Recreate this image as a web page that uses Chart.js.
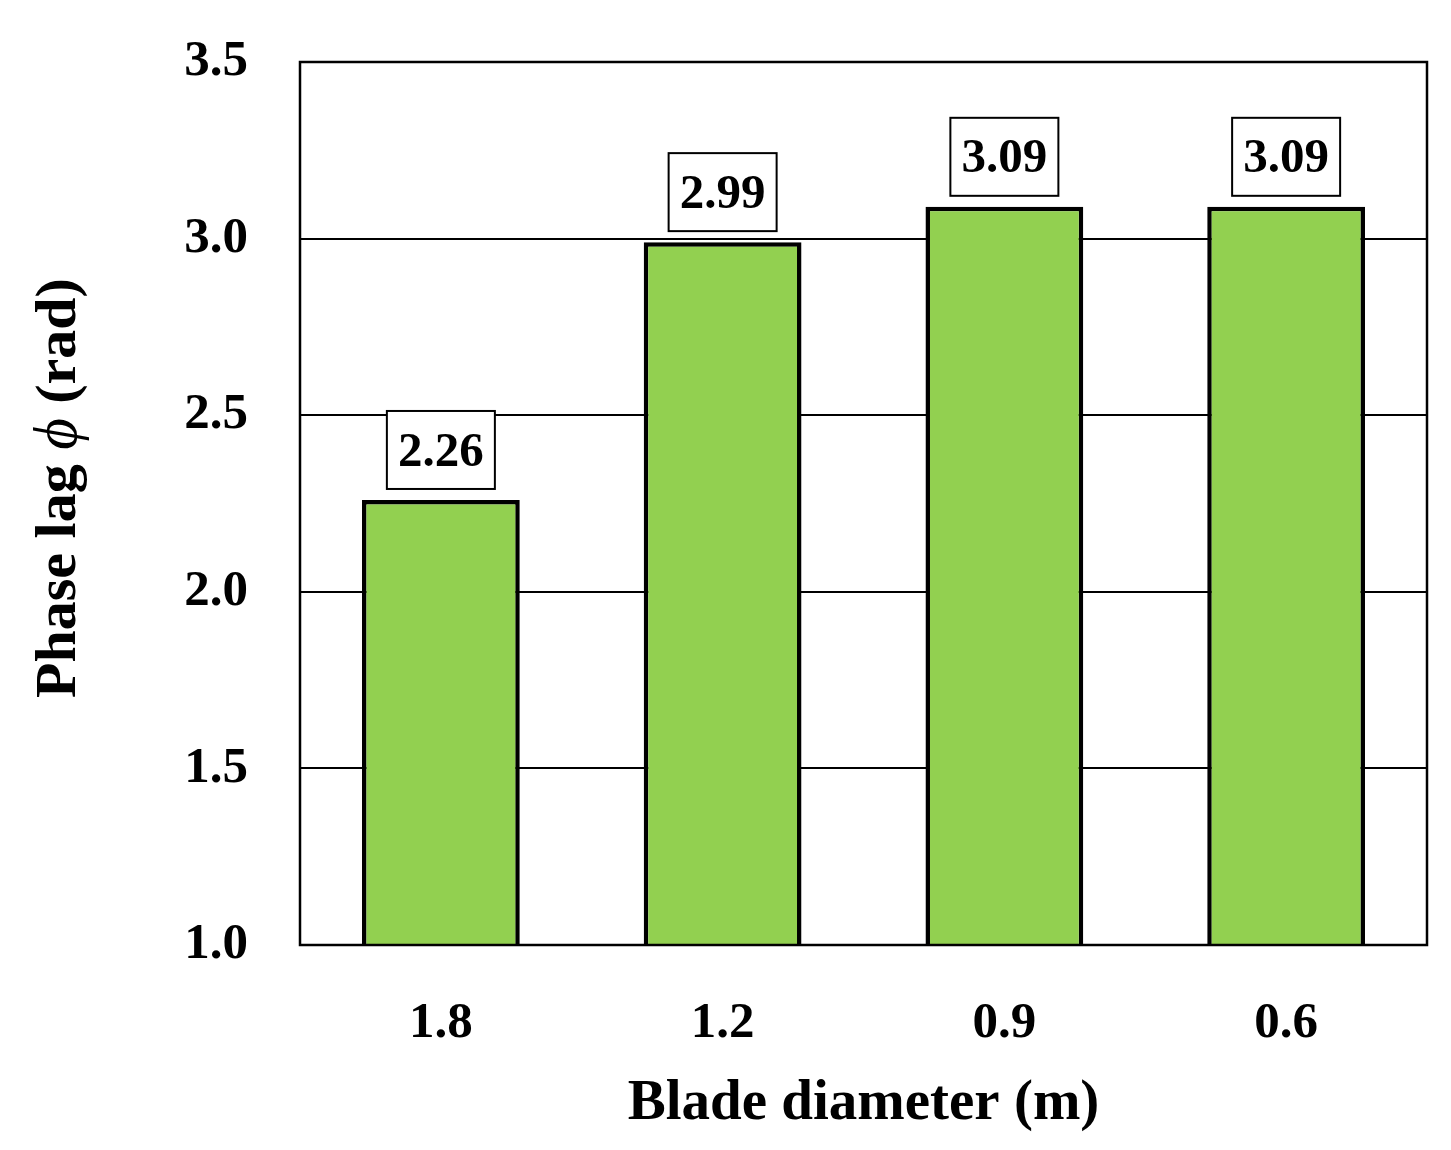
<!DOCTYPE html>
<html>
<head>
<meta charset="utf-8">
<script src="https://cdn.jsdelivr.net/npm/chart.js@4"></script>
<style>
  html, body { margin: 0; padding: 0; background: #fff; }
  #wrap { width: 1451px; height: 1150px; }
</style>
</head>
<body>
<div id="wrap"><canvas id="chart" width="1451" height="1150"></canvas></div>
<script>
// blade diameters on the x axis
const diameters = ['1.8', '1.2', '0.9', '0.6']
// phase lag values (rad)
const phaseLag = [2.26, 2.99, 3.09, 3.09]
// y axis range and step
const yMin = 1.0
const yMax = 3.5
const yStep = 0.5

const serif = "'Liberation Serif', 'Times New Roman', serif"

// boxed value labels above each bar, plus the frame and axis titles
const extras = {
	id: 'extras',
	afterDatasetsDraw(chart) {
		const ctx = chart.ctx
		const area = chart.chartArea
		const meta = chart.getDatasetMeta(0)
		ctx.save()
		// frame around the plot
		ctx.strokeStyle = '#000'
		ctx.lineWidth = 2.5
		ctx.strokeRect(area.left, area.top, area.right - area.left, area.bottom - area.top)

		// value boxes
		ctx.font = 'bold 49px ' + serif
		ctx.textAlign = 'center'
		ctx.textBaseline = 'middle'
		meta.data.forEach((bar, i) => {
			const w = 108, h = 78
			const x = bar.x - w / 2
			const y = bar.y - 11 - h
			ctx.fillStyle = '#fff'
			ctx.fillRect(x, y, w, h)
			ctx.lineWidth = 2
			ctx.strokeStyle = '#000'
			ctx.strokeRect(x, y, w, h)
			ctx.fillStyle = '#000'
			ctx.fillText(phaseLag[i].toFixed(2), bar.x, y + h / 2 + 3)
		})

		// x title
		ctx.font = 'bold 57px ' + serif
		ctx.fillText('Blade diameter (m)', (area.left + area.right) / 2, 1104)

		// y title with italic phi
		const parts = [
			{ t: 'Phase lag ', f: 'bold 58px ' + serif },
			{ t: 'ϕ', f: 'italic 61px ' + serif },
			{ t: ' (rad)', f: 'bold 58px ' + serif }
		]
		let total = 0
		parts.forEach(p => { ctx.font = p.f; p.w = ctx.measureText(p.t).width; total += p.w })
		ctx.translate(60, 488)
		ctx.rotate(-Math.PI / 2)
		ctx.textAlign = 'left'
		let cx = -total / 2
		parts.forEach(p => {
			ctx.font = p.f
			ctx.fillText(p.t, cx, 0)
			cx += p.w
		})
		ctx.restore()
	}
}

const graph = document.getElementById('chart')
const myChart = new Chart(graph, {
	type: 'bar',
	data: {
		labels: diameters,
		datasets: [{
			data: phaseLag,
			backgroundColor: '#92d050',
			borderColor: '#000',
			borderWidth: 4.5,
			borderSkipped: 'start',
			categoryPercentage: 1.0,
			barPercentage: 0.56
		}]
	},
	options: {
		responsive: false,
		animation: false,
		devicePixelRatio: 1,
		layout: { padding: { left: 0, top: 62, right: 24, bottom: 0 } },
		plugins: {
			legend: { display: false },
			tooltip: { enabled: false }
		},
		scales: {
			x: {
				grid: { display: false },
				border: { display: false },
				ticks: {
					color: '#000',
					padding: 40,
					font: { family: serif, size: 51, weight: 'bold' }
				},
				afterFit(scale) { scale.height = 205 }
			},
			y: {
				min: yMin,
				max: yMax,
				grid: { color: '#000', lineWidth: 2, drawTicks: false },
				border: { display: false },
				ticks: {
					stepSize: yStep,
					color: '#000',
					padding: 52,
					font: { family: serif, size: 51, weight: 'bold' },
					callback: function (value) {
						return value.toFixed(1)
					}
				},
				afterFit(scale) {
					scale.width = 300
					scale.paddingTop = 0
					scale.paddingBottom = 0
				}
			}
		}
	},
	plugins: [extras]
})
</script>
</body>
</html>
